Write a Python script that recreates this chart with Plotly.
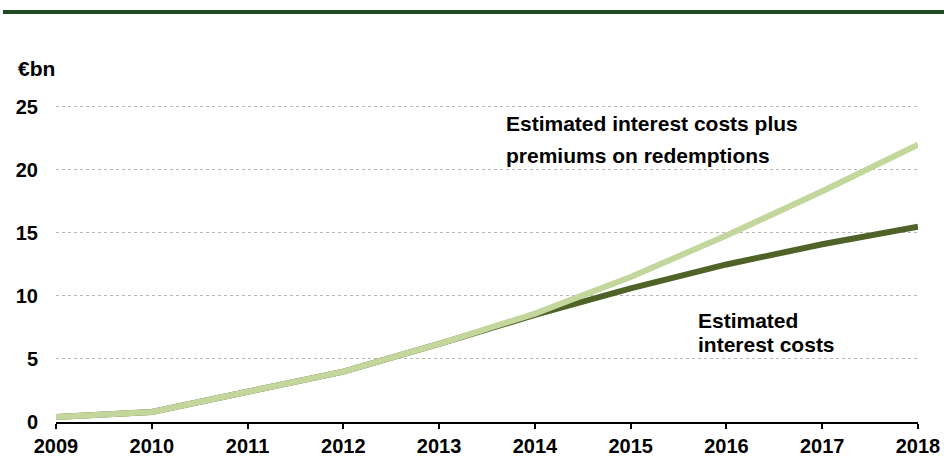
import plotly.graph_objects as go

years = [2009, 2010, 2011, 2012, 2013, 2014, 2015, 2016, 2017, 2018]
interest_plus_premiums = [0.4, 0.8, 2.4, 4.0, 6.2, 8.6, 11.5, 14.8, 18.3, 22.0]
interest_costs = [0.4, 0.8, 2.4, 4.0, 6.2, 8.5, 10.6, 12.5, 14.1, 15.5]
y_ticks = [0, 5, 10, 15, 20, 25]

FONT = "Liberation Sans, Arial, sans-serif"
W, H = 944, 474
ml, mr, mt, mb = 56, 26, 105, 52
pw, ph = W - ml - mr, H - mt - mb

def px_x(x):
    return (x - ml) / pw

def px_y(y):
    return (H - mb - y) / ph

fig = go.Figure()
fig.add_trace(go.Scatter(x=years, y=interest_costs, mode="lines",
                         line=dict(color="#4f6228", width=6), showlegend=False))
fig.add_trace(go.Scatter(x=years, y=interest_plus_premiums, mode="lines",
                         line=dict(color="#c3d69b", width=6), showlegend=False))

fig.update_layout(
    width=W, height=H, autosize=False,
    margin=dict(l=ml, r=mr, t=mt, b=mb, pad=0),
    paper_bgcolor="white", plot_bgcolor="white",
    font=dict(family=FONT, size=20, color="black"),
    xaxis=dict(range=[2009, 2018], tickvals=years, ticks="outside", ticklen=5,
               tickwidth=2, tickcolor="black", showline=True, linecolor="black",
               linewidth=2, showgrid=False, zeroline=False, automargin=False,
               tickfont=dict(family=FONT, size=20, color="black", weight="bold")),
    yaxis=dict(range=[0, 25.15], tickvals=y_ticks, showgrid=True, gridcolor="#b8b8b8",
               griddash="dot", gridwidth=1, zeroline=False, showline=False,
               ticks="", ticklabelstandoff=17, automargin=False,
               tickfont=dict(family=FONT, size=20, color="black", weight="bold")),
)

fig.add_shape(type="rect", xref="paper", yref="paper",
              x0=px_x(3), x1=px_x(944), y0=px_y(14), y1=px_y(10),
              fillcolor="#1f4a23", line=dict(width=0), layer="above")

ann = dict(xref="paper", yref="paper", showarrow=False, xanchor="left", yanchor="middle",
           font=dict(family=FONT, size=21, color="black", weight="bold"))
fig.add_annotation(text="€bn", x=px_x(16), y=px_y(68), **ann)
fig.add_annotation(text="Estimated interest costs plus", x=px_x(504), y=px_y(124), **ann)
fig.add_annotation(text="premiums on redemptions", x=px_x(504), y=px_y(155), **ann)
fig.add_annotation(text="Estimated", x=px_x(696), y=px_y(320), **ann)
fig.add_annotation(text="interest costs", x=px_x(696), y=px_y(344), **ann)

fig.write_html("out.html")
